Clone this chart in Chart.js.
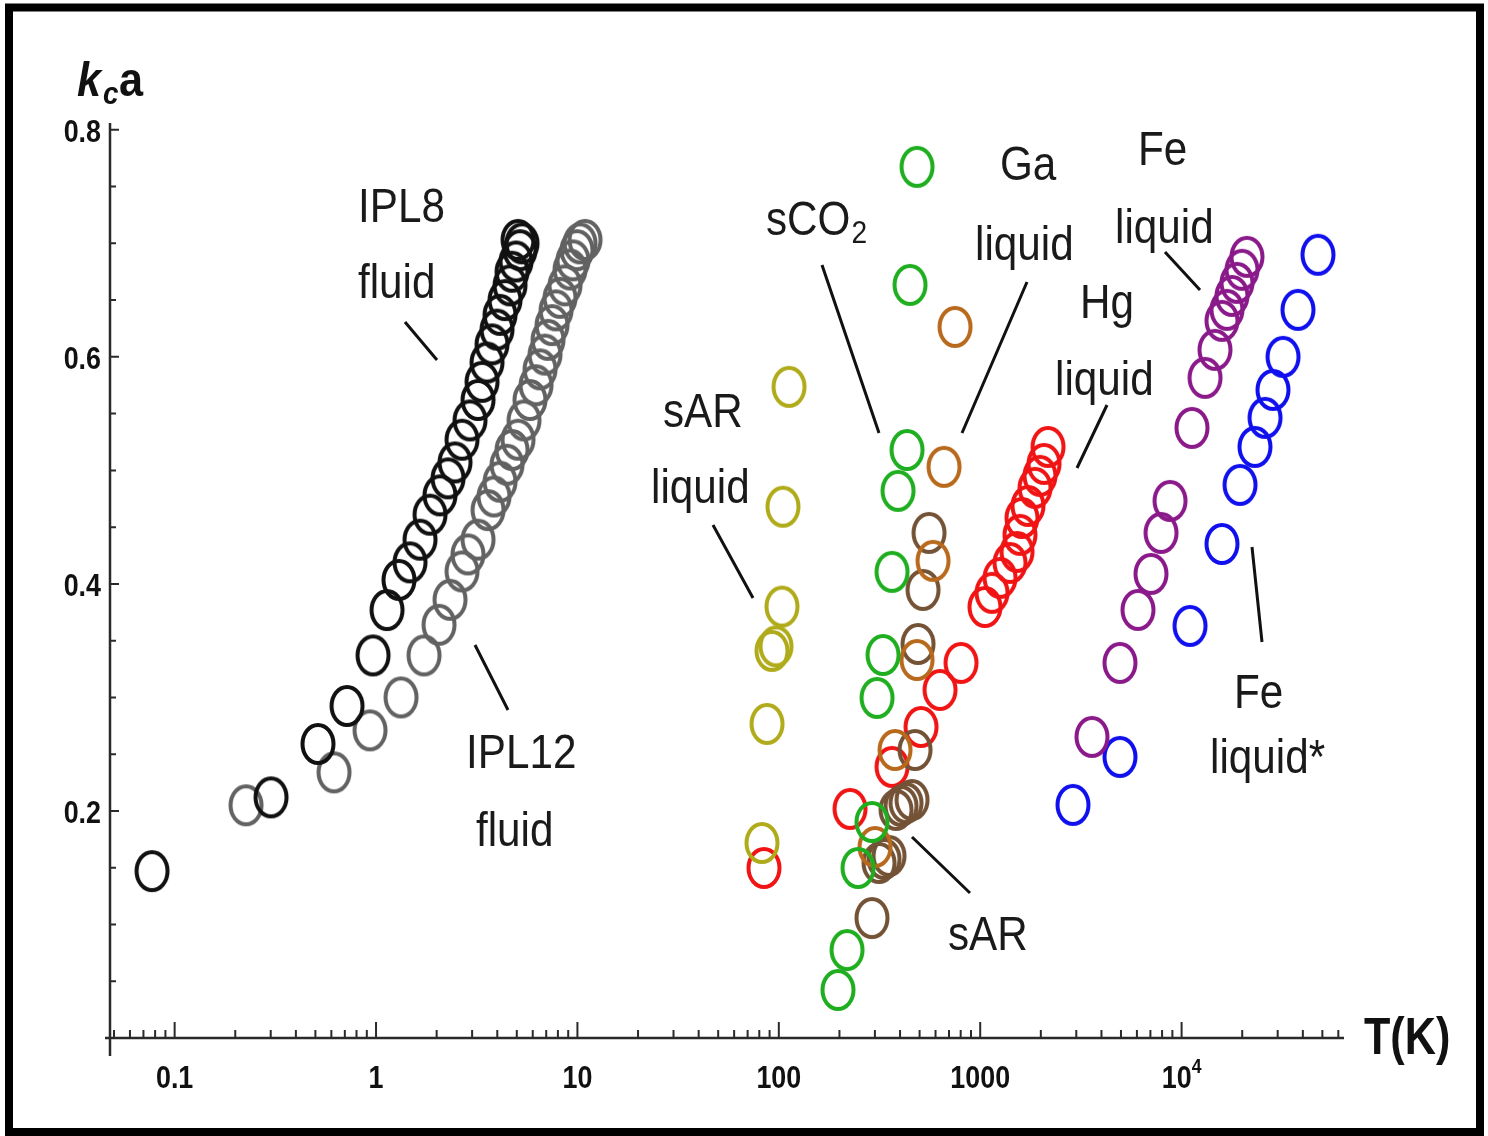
<!DOCTYPE html>
<html>
<head>
<meta charset="utf-8">
<script src="https://cdn.jsdelivr.net/npm/chart.js@4.4.1/dist/chart.umd.min.js"></script>
<style>
  html, body { margin: 0; padding: 0; background: #fff; }
  #wrap { width: 1488px; height: 1136px; }
</style>
</head>
<body>
<div id="wrap"><canvas id="chart" width="1488" height="1136"></canvas></div>
<script>
// values: T in K (log axis), kc*a
const ipl8T = [0.0772, 0.301, 0.515, 0.718, 0.966, 1.134, 1.30, 1.475, 1.654, 1.854, 2.078, 2.278, 2.468, 2.673, 2.929, 3.21, 3.36, 3.557, 3.767, 3.99, 4.128, 4.371, 4.628, 4.735, 4.956, 5.188, 5.307, 5.07];
const ipl8K = [0.147, 0.212, 0.259, 0.2925, 0.337, 0.377, 0.4035, 0.419, 0.439, 0.461, 0.478, 0.493, 0.507, 0.527, 0.544, 0.562, 0.578, 0.595, 0.611, 0.624, 0.637, 0.650, 0.663, 0.675, 0.684, 0.694, 0.700, 0.703];

const ipl12T = [0.2262, 0.6187, 0.934, 1.331, 1.731, 2.055, 2.331, 2.673, 2.862, 3.21, 3.598, 3.853, 4.128, 4.472, 4.735, 5.07, 5.43, 5.815, 6.23, 6.52, 6.905, 7.145, 7.48, 7.83, 8.195, 8.677, 9.19, 9.51, 9.95, 10.30, 10.91];
const ipl12K = [0.205, 0.234, 0.271, 0.300, 0.337, 0.364, 0.386, 0.411, 0.426, 0.439, 0.465, 0.477, 0.490, 0.505, 0.518, 0.527, 0.544, 0.562, 0.575, 0.589, 0.602, 0.615, 0.628, 0.641, 0.652, 0.663, 0.677, 0.685, 0.694, 0.700, 0.703];

const sarLiqT = [112.4, 104.9, 103.7, 96.85, 92.5, 87.4, 82.5];
const sarLiqK = [0.5736, 0.468, 0.380, 0.345, 0.341, 0.2767, 0.1718];

const sco2T = [485.6, 448.2, 433.1, 390.7, 364.9, 329.2, 307.3, 290.2, 247.4, 218.1, 196.7];
const sco2K = [0.7674, 0.6634, 0.518, 0.482, 0.4106, 0.3374, 0.2996, 0.1903, 0.1498, 0.0775, 0.0423];

const gaT = [749.7, 661.3, 583.1, 485.6, 377.6, 300.4];
const gaK = [0.6264, 0.5031, 0.4203, 0.3330, 0.2537, 0.1683];

const sarT = [556.9, 520.0, 491.2, 474.7, 458.7, 428.2, 404.4, 381.9, 352.6, 333.0, 314.5, 290.2];
const sarK = [0.4449, 0.3947, 0.3471, 0.2537, 0.2097, 0.2070, 0.2044, 0.2009, 0.1604, 0.1577, 0.1542, 0.1057];

const hgT = [84.4, 225.7, 364.9, 508.2, 631.6, 802.9, 1056, 1145, 1254, 1406, 1523, 1576, 1612, 1727, 1871, 1981, 2074, 2171];
const hgK = [0.1498, 0.2018, 0.2388, 0.2740, 0.3066, 0.3304, 0.3797, 0.3921, 0.4053, 0.4185, 0.4282, 0.4432, 0.4581, 0.4687, 0.4846, 0.4952, 0.5057, 0.5207];

const feT = [21120, 19950, 18840, 17790, 16800, 15870, 14650, 13070, 11260, 8758, 7902, 7047, 6074, 4944, 3590];
const feK = [0.6881, 0.6767, 0.6652, 0.6537, 0.6414, 0.6317, 0.6062, 0.5815, 0.5374, 0.4731, 0.4449, 0.4088, 0.3771, 0.3304, 0.2652];

const feStarT = [47560, 37840, 31880, 28430, 25950, 23140, 19500, 15870, 11010, 4944, 2889];
const feStarK = [0.6899, 0.6414, 0.6000, 0.5709, 0.5463, 0.5207, 0.4872, 0.4352, 0.3630, 0.2476, 0.2053];

// axis ticks
const xTicks = [0.1, 1, 10, 100, 1000, 10000];
const xTickLabels = ["0.1", "1", "10", "100", "1000", "10^4"];
const yTicks = [0.2, 0.4, 0.6, 0.8];
const yTickLabels = ["0.2", "0.4", "0.6", "0.8"];

// text labels on the plot (pixel layout)
const notes = [
    { t: "IPL8", x: 358, y: 222 },
    { t: "fluid", x: 358, y: 298 },
    { t: "IPL12", x: 466, y: 768 },
    { t: "fluid", x: 476, y: 846 },
    { t: "sCO", sub: "2", x: 766, y: 235 },
    { t: "Ga", x: 1000, y: 180 },
    { t: "liquid", x: 975, y: 260 },
    { t: "Fe", x: 1138, y: 165 },
    { t: "liquid", x: 1115, y: 243 },
    { t: "Hg", x: 1080, y: 318 },
    { t: "liquid", x: 1055, y: 395 },
    { t: "sAR", x: 663, y: 427 },
    { t: "liquid", x: 651, y: 503 },
    { t: "Fe", x: 1234, y: 708 },
    { t: "liquid*", x: 1210, y: 773 },
    { t: "sAR", x: 948, y: 950 },
];
const leaders = [
    [405, 322, 437, 360],
    [475, 645, 508, 710],
    [822, 265, 879, 433],
    [1027, 282, 962, 433],
    [1165, 252, 1200, 290],
    [1107, 405, 1077, 468],
    [713, 525, 753, 598],
    [1252, 547, 1262, 642],
    [912, 837, 970, 893],
];

function pts(xs, ys) {
    return xs.map((x, i) => ({ x: x, y: ys[i] }));
}

// open ring, a bit taller than wide like the source
function ring(color) {
    const c = document.createElement("canvas");
    c.width = 40;
    c.height = 46;
    const g = c.getContext("2d");
    g.strokeStyle = color;
    g.lineWidth = 4;
    g.beginPath();
    g.ellipse(20, 23, 15.5, 19, 0, 0, Math.PI * 2);
    g.stroke();
    return c;
}

function series(label, xs, ys, color) {
    return {
        label: label,
        data: pts(xs, ys),
        pointStyle: ring(color),
        pointRadius: 17,
        borderColor: color,
        backgroundColor: "transparent",
        showLine: false,
        clip: false,
    };
}

function txt(ctx, s, x, y, font, sx, align) {
    ctx.save();
    ctx.font = font;
    ctx.textAlign = align || "left";
    ctx.textBaseline = "alphabetic";
    ctx.translate(x, y);
    ctx.scale(sx, 1);
    ctx.fillText(s, 0, 0);
    ctx.restore();
}

const AXIS = "#2a2a2a";
const TICKFONT = "bold 32px 'Liberation Sans', Arial, sans-serif";
const SUPFONT = "bold 21px 'Liberation Sans', Arial, sans-serif";
const NOTEFONT = "48px 'Liberation Sans', Arial, sans-serif";
const TSX = 0.84;

const axesPlugin = {
    id: "axes",
    beforeDraw(chart) {
        const ctx = chart.ctx;
        ctx.save();
        ctx.fillStyle = "#fff";
        ctx.fillRect(0, 0, chart.width, chart.height);
        ctx.restore();
    },
    beforeDatasetsDraw(chart) {
        const ctx = chart.ctx;
        const xs = chart.scales.x, ys = chart.scales.y;
        const y0 = ys.getPixelForValue(0);
        const x0 = xs.left;
        ctx.save();
        ctx.strokeStyle = AXIS;
        ctx.lineWidth = 2.5;
        ctx.beginPath();
        ctx.moveTo(xs.left - 5, y0);
        ctx.lineTo(xs.right, y0);
        ctx.moveTo(x0, ys.top);
        ctx.lineTo(x0, y0 + 18);
        ctx.stroke();

        // x ticks, pointing up
        ctx.lineWidth = 2;
        ctx.beginPath();
        for (let e = -2; e <= 5; e++) {
            for (let m = 1; m <= 9; m++) {
                const v = m * Math.pow(10, e);
                if (v < xs.min || v > xs.max) continue;
                const px = xs.getPixelForValue(v);
                const len = m === 1 ? 16 : 8;
                ctx.moveTo(px, y0);
                ctx.lineTo(px, y0 - len);
            }
        }
        // y ticks, pointing right
        for (let k = 1; k <= 16; k++) {
            const v = k * 0.05;
            const py = ys.getPixelForValue(v);
            const len = k % 4 === 0 ? 9 : 6;
            ctx.moveTo(x0, py);
            ctx.lineTo(x0 + len, py);
        }
        ctx.stroke();

        ctx.fillStyle = "#111";
        xTicks.forEach((v, i) => {
            const px = xs.getPixelForValue(v);
            const lab = xTickLabels[i];
            if (lab.indexOf("^") >= 0) {
                const [b, p] = lab.split("^");
                ctx.font = TICKFONT;
                const wb = ctx.measureText(b).width * TSX;
                ctx.font = SUPFONT;
                const wp = ctx.measureText(p).width * TSX;
                const left = px - (wb + wp) / 2;
                txt(ctx, b, left, y0 + 50, TICKFONT, TSX, "left");
                txt(ctx, p, left + wb, y0 + 35, SUPFONT, TSX, "left");
            } else {
                txt(ctx, lab, px, y0 + 50, TICKFONT, TSX, "center");
            }
        });
        yTicks.forEach((v, i) => {
            const py = ys.getPixelForValue(v);
            txt(ctx, yTickLabels[i], x0 - 9, py + 12, TICKFONT, TSX, "right");
        });

        // axis titles
        txt(ctx, "k", 77, 96, "italic bold 48px 'Liberation Sans', Arial, sans-serif", 0.9, "left");
        txt(ctx, "c", 103, 104, "italic bold 31px 'Liberation Sans', Arial, sans-serif", 0.9, "left");
        txt(ctx, "a", 119, 96, "bold 48px 'Liberation Sans', Arial, sans-serif", 0.9, "left");
        txt(ctx, "T(K)", 1364, 1054, "bold 52px 'Liberation Sans', Arial, sans-serif", 0.83, "left");
        ctx.restore();
    },
    afterDatasetsDraw(chart) {
        const ctx = chart.ctx;
        ctx.save();
        ctx.fillStyle = "#1a1a1a";
        notes.forEach(n => {
            txt(ctx, n.t, n.x, n.y, NOTEFONT, 0.88, "left");
            if (n.sub) {
                ctx.font = NOTEFONT;
                const w = ctx.measureText(n.t).width * 0.88;
                txt(ctx, n.sub, n.x + w + 1, n.y + 8, "32px 'Liberation Sans', Arial, sans-serif", 0.88, "left");
            }
        });
        ctx.strokeStyle = "#111";
        ctx.lineWidth = 3;
        ctx.beginPath();
        leaders.forEach(l => {
            ctx.moveTo(l[0], l[1]);
            ctx.lineTo(l[2], l[3]);
        });
        ctx.stroke();

        // black frame round the figure
        ctx.lineWidth = 8;
        ctx.strokeStyle = "#000";
        ctx.strokeRect(9, 7.5, 1471, 1124.5);
        ctx.restore();
    },
};

new Chart(document.getElementById("chart"), {
    type: "scatter",
    data: {
        datasets: [
            series("IPL8 fluid", ipl8T, ipl8K, "#111111"),
            series("IPL12 fluid", ipl12T, ipl12K, "#626262"),
            series("sAR liquid", sarLiqT, sarLiqK, "#b0ab1a"),
            series("sCO2", sco2T, sco2K, "#1fae1f"),
            series("Ga liquid", gaT, gaK, "#b8691c"),
            series("sAR", sarT, sarK, "#735236"),
            series("Hg liquid", hgT, hgK, "#f01414"),
            series("Fe liquid", feT, feK, "#8a1a8a"),
            series("Fe liquid*", feStarT, feStarK, "#1010ee"),
        ],
    },
    options: {
        responsive: false,
        animation: false,
        layout: { padding: { left: 110, right: 144, top: 123, bottom: 98 } },
        plugins: { legend: { display: false }, tooltip: { enabled: false } },
        scales: {
            x: { type: "logarithmic", min: 0.04776, max: 64030, display: false },
            y: { type: "linear", min: 0, max: 0.806, display: false },
        },
    },
    plugins: [axesPlugin],
});
</script>
</body>
</html>
